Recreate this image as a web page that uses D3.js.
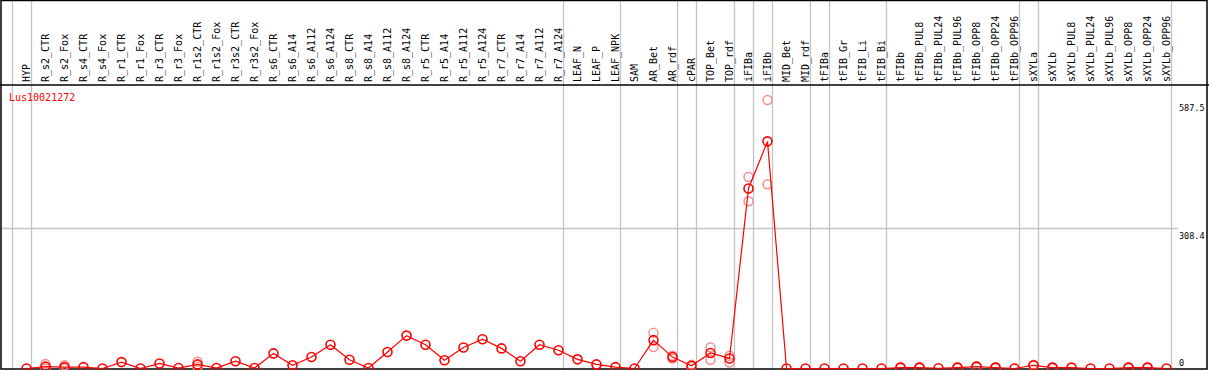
<!DOCTYPE html>
<html>
<head>
<meta charset="utf-8">
<script src="https://cdn.jsdelivr.net/npm/d3@7"></script>
<style>
  body { margin: 0; background: #fff; }
  text { font-family: "DejaVu Sans Mono", monospace; }
</style>
</head>
<body>
<script>
// Data
var geneName = "Lus10021272";

var categories = ["HYP", "R_s2_CTR", "R_s2_Fox", "R_s4_CTR", "R_s4_Fox", "R_r1_CTR", "R_r1_Fox",
  "R_r3_CTR", "R_r3_Fox", "R_r1s2_CTR", "R_r1s2_Fox", "R_r3s2_CTR", "R_r3s2_Fox",
  "R_s6_CTR", "R_s6_A14", "R_s6_A112", "R_s6_A124", "R_s8_CTR", "R_s8_A14", "R_s8_A112", "R_s8_A124",
  "R_r5_CTR", "R_r5_A14", "R_r5_A112", "R_r5_A124", "R_r7_CTR", "R_r7_A14", "R_r7_A112", "R_r7_A124",
  "LEAF_N", "LEAF_P", "LEAF_NPK", "SAM", "AR_Bet", "AR_rdf", "cPAR", "TOP_Bet", "TOP_rdf",
  "iFIBa", "iFIBb", "MID_Bet", "MID_rdf", "tFIBa", "tFIB_Gr", "tFIB_Li", "tFIB_Bi",
  "tFIBb", "tFIBb_PUL8", "tFIBb_PUL24", "tFIBb_PUL96", "tFIBb_OPP8", "tFIBb_OPP24", "tFIBb_OPP96",
  "sXYLa", "sXYLb", "sXYLb_PUL8", "sXYLb_PUL24", "sXYLb_PUL96", "sXYLb_OPP8", "sXYLb_OPP24", "sXYLb_OPP96"];

// mean expression
var meanValues = [0, 4, 3, 3, 0, 14, 0, 11, 1, 9, 1, 16, 1,
  33, 7, 25, 52, 19, 1, 36, 72,
  52, 18, 46, 64, 44, 16, 52, 40,
  20, 9, 3, 0, 62, 25, 6, 34, 22,
  394, 497, 0, 0, 0, 0, 0, 0,
  2, 2, 0.5, 2, 4, 2, 0,
  7, 2, 2, 0, 0, 2, 2, 0];

// replicates (null = none shown)
var rep1 = [null, 10, 7, null, null, null, null, null, null, 15, null, null, null,
  null, null, null, null, null, null, null, null,
  null, null, null, null, null, null, null, null,
  null, null, null, null, 78, 28, 8, 46, 28,
  419, 587.5, null, null, null, null, null, null,
  3, 3, null, 3, 5, 3, null,
  8, 3, null, null, null, 3, 3, null];
var rep2 = [null, 0, 0, null, null, null, null, null, null, 4, null, null, null,
  null, null, null, null, null, null, null, null,
  null, null, null, null, null, null, null, null,
  null, null, null, null, 47, 22, 4, 19, 13,
  366, 403, null, null, null, null, null, null,
  1, 1, null, 1, 3, 1, null,
  6, 1, null, null, null, 1, 1, null];

// group starts (grey separators)
var groupStarts = ["HYP", "R_s2_CTR", "LEAF_N", "SAM", "cPAR", "TOP_Bet", "iFIBa", "iFIBb",
  "MID_Bet", "tFIBa", "tFIB_Gr", "tFIBb", "sXYLa", "sXYLb"];

var yTicks = [0, 308.4, 587.5];
var yGridLines = [308.4];

// Chart setup
var svgWidth = 1209;
var svgHeight = 370;
var headerBottom = 85;

var svg = d3.select("body")
  .append("svg")
  .attr("width", svgWidth)
  .attr("height", svgHeight);

var xScale = d3.scalePoint()
  .domain(categories)
  .range([26.5, 1166.5]);

var step = xScale.step();

var yScale = d3.scaleLinear()
  .domain([0, 587.5])
  .range([368.5, 100]);

// grey vertical separators
var sepX = groupStarts.map(c => xScale(c) - 15);
sepX.push(xScale(categories[categories.length - 1]) + step - 15);

svg.selectAll(".sep")
  .data(sepX)
  .enter()
  .append("line")
  .attr("x1", d => Math.round(d) + 0.5)
  .attr("x2", d => Math.round(d) + 0.5)
  .attr("y1", 0)
  .attr("y2", svgHeight)
  .attr("stroke", "#c4c4c4")
  .attr("stroke-width", 1.3);

// horizontal grid
svg.selectAll(".hgrid")
  .data(yGridLines)
  .enter()
  .append("line")
  .attr("x1", 1)
  .attr("x2", 1178)
  .attr("y1", d => Math.round(yScale(d)) + 0.5)
  .attr("y2", d => Math.round(yScale(d)) + 0.5)
  .attr("stroke", "#c4c4c4")
  .attr("stroke-width", 1.3);

// frame
svg.append("rect")
  .attr("x", 1)
  .attr("y", 0.5)
  .attr("width", svgWidth - 3)
  .attr("height", svgHeight - 1.5)
  .attr("fill", "none")
  .attr("stroke", "#000")
  .attr("stroke-width", 1.5);

svg.append("line")
  .attr("x1", 0)
  .attr("x2", svgWidth)
  .attr("y1", headerBottom)
  .attr("y2", headerBottom)
  .attr("stroke", "#000")
  .attr("stroke-width", 1.5);

// column labels (rotated)
svg.selectAll(".collabel")
  .data(categories)
  .enter()
  .append("text")
  .attr("transform", d => `translate(${xScale(d) + 3.5}, 82) rotate(-90)`)
  .attr("font-size", "10px")
  .attr("fill", "#000")
  .text(d => d);

// right side value labels
svg.selectAll(".ylabel")
  .data(yTicks)
  .enter()
  .append("text")
  .attr("x", 1179)
  .attr("y", d => d === 0 ? yScale(d) - 3 : yScale(d) + 11)
  .attr("font-size", "8.5px")
  .attr("fill", "#000")
  .text(d => d);

// gene name
svg.append("text")
  .attr("x", 9)
  .attr("y", 101)
  .attr("font-size", "10px")
  .attr("fill", "red")
  .text(geneName);

// replicate circles
var reps = [];
categories.forEach(function(c, i) {
  if (rep1[i] !== null) reps.push({ cat: c, v: rep1[i] });
  if (rep2[i] !== null) reps.push({ cat: c, v: rep2[i] });
});

svg.selectAll(".rep")
  .data(reps)
  .enter()
  .append("circle")
  .attr("cx", d => xScale(d.cat))
  .attr("cy", d => yScale(d.v))
  .attr("r", 4.5)
  .attr("fill", "none")
  .attr("stroke", "#f09090")
  .attr("stroke-width", 1.5);

// mean line
var line = d3.line()
  .x((d, i) => xScale(categories[i]))
  .y(d => yScale(d));

svg.append("path")
  .attr("d", line(meanValues))
  .attr("fill", "none")
  .attr("stroke", "red")
  .attr("stroke-width", 1.2);

svg.selectAll(".pt")
  .data(meanValues)
  .enter()
  .append("circle")
  .attr("cx", (d, i) => xScale(categories[i]))
  .attr("cy", d => yScale(d))
  .attr("r", 4.5)
  .attr("fill", "none")
  .attr("stroke", "red")
  .attr("stroke-width", 1.6);
</script>
</body>
</html>
